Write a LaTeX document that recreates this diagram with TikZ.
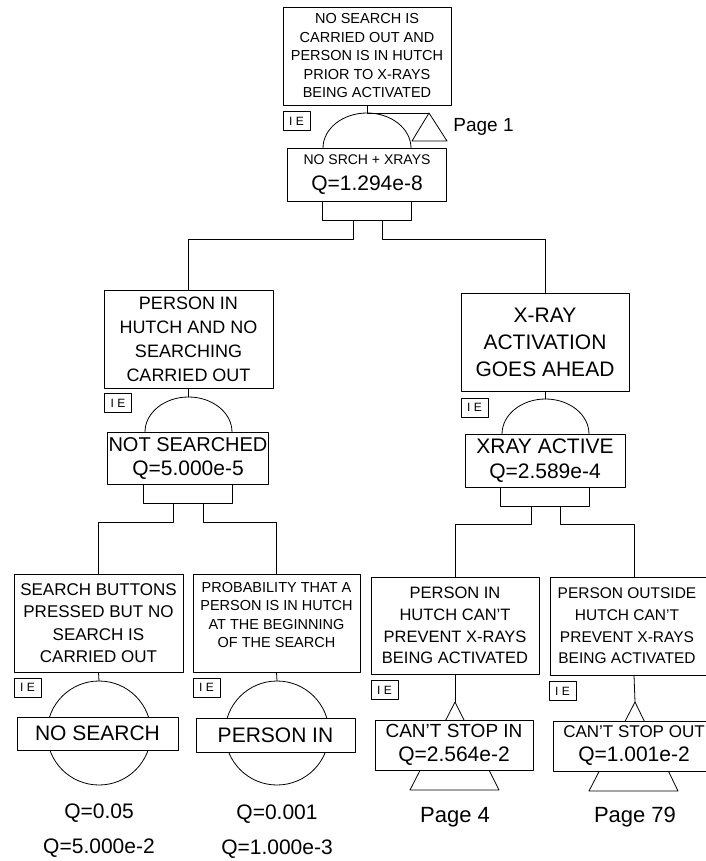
\documentclass[tikz,border=0pt]{standalone}
\usepackage{fontspec}
\setmainfont{Liberation Sans}
\newcommand{\fs}[2]{\fontsize{#1}{#2}\selectfont}

\begin{document}
\begin{tikzpicture}[x=1pt, y=-1pt, line cap=round, line join=round, line width=0.8pt,
  evbox/.style={draw, fill=white, align=center, inner sep=0pt},
  iebox/.style={draw, fill=white, inner sep=0pt, minimum width=27pt, minimum height=19pt, font=\fs{12}{12}},
  orbox/.style={draw, inner sep=0pt, minimum width=89pt, minimum height=19pt, anchor=north},
  lbl/.style={inner sep=0pt, font=\fs{21}{21}}]

\useasboundingbox (0,0) rectangle (705,861);

% Evento di vertice
\node[evbox, minimum width=168pt, minimum height=98pt, font=\fs{14.5}{18.5}] (top) at (367,56)
  {NO SEARCH IS\\CARRIED OUT AND\\PERSON IS IN HUTCH\\PRIOR TO X-RAYS\\BEING ACTIVATED};
\node[iebox] (ie0) at (296.5,121) {I E};
\coordinate (g0) at (367,113);
\coordinate (t0) at (429,113);
\draw (top.south) -- (g0) -- (t0);
\draw (323,148) arc[start angle=180, end angle=0, x radius=44pt, y radius=35pt];
\draw (t0) -- (412,141) -- (447,141) -- cycle;
\node[lbl, font=\fs{19}{19}, anchor=west] (p1) at (453,127) {Page 1};
\node[evbox, minimum width=159pt, minimum height=53pt, font=\fs{21}{26}] (n0) at (367,174.5)
  {{\fs{14}{26}NO SRCH + XRAYS}\\Q=1.294e-8};
\node[orbox] (b0) at (n0.south) {};

% Ramo sinistro
\node[evbox, minimum width=169pt, minimum height=98pt, font=\fs{18}{24}] (l1) at (188.5,339)
  {PERSON IN\\HUTCH AND NO\\SEARCHING\\CARRIED OUT};
\draw ([xshift=-14pt]b0.south) -- ++(0,18) -| (l1.north);
\node[iebox] (ie1) at (118,403) {I E};
\coordinate (g1) at (188.5,397);
\draw (l1.south) -- (g1);
\draw (145,432) arc[start angle=180, end angle=0, x radius=43.5pt, y radius=35pt];
\node[evbox, minimum width=161pt, minimum height=52pt, font=\fs{20}{24}] (n1) at (188,458)
  {NOT SEARCHED\\{\fs{21}{24}Q=5.000e-5}};
\node[orbox] (b1) at (n1.south) {};

% Ramo destro
\node[evbox, minimum width=168pt, minimum height=98pt, font=\fs{21}{27}] (r1) at (545,342)
  {X-RAY\\ACTIVATION\\GOES AHEAD};
\draw ([xshift=15pt]b0.south) -- ++(0,18) -| (r1.north);
\node[iebox] (ie2) at (474.5,407.5) {I E};
\coordinate (g2) at (545,399);
\draw (r1.south) -- (g2);
\draw (502,434) arc[start angle=180, end angle=0, x radius=43.5pt, y radius=35pt];
\node[evbox, minimum width=160pt, minimum height=53pt, font=\fs{21}{25}] (n2) at (545,460.5)
  {XRAY ACTIVE\\Q=2.589e-4};
\node[orbox] (b2) at (n2.south) {};

% Eventi base
\node[evbox, minimum width=169pt, minimum height=98pt, font=\fs{17}{22.5}] (e1) at (98.5,623)
  {SEARCH BUTTONS\\PRESSED BUT NO\\SEARCH IS\\CARRIED OUT};
\draw ([xshift=-15pt]b1.south) -- ++(0,18) -| (e1.north);
\node[iebox] (ie3) at (27.5,687.5) {I E};
\draw (99,733) circle (52pt);
\draw (e1.south) -- (99,681);
\node[evbox, minimum width=161pt, minimum height=33pt, font=\fs{21}{21}] (k1) at (97.5,733.5) {NO SEARCH};
\node[lbl] (q1a) at (99,813) {Q=0.05};
\node[lbl] (q1b) at (99,848) {Q=5.000e-2};

\node[evbox, minimum width=167pt, minimum height=98pt, font=\fs{14.5}{18.3}] (e2) at (276.5,623)
  {PROBABILITY THAT A\\PERSON IS IN HUTCH\\AT THE BEGINNING\\OF THE SEARCH\\[-2pt]\mbox{}};
\draw ([xshift=15pt]b1.south) -- ++(0,18) -| (e2.north);
\node[iebox] (ie4) at (206.5,687.5) {I E};
\draw (277,733) circle (52pt);
\draw (e2.south) -- (277,681);
\node[evbox, minimum width=159pt, minimum height=34pt, font=\fs{21}{21}] (k2) at (275.5,735) {PERSON IN};
\node[lbl] (q2a) at (277,814) {Q=0.001};
\node[lbl] (q2b) at (277,849) {Q=1.000e-3};

% Trasferimenti
\node[evbox, minimum width=168pt, minimum height=97pt, font=\fs{16.5}{21.7}] (e3) at (455,625.5)
  {PERSON IN\\HUTCH CAN'T\\PREVENT X-RAYS\\BEING ACTIVATED};
\draw ([xshift=-14pt]b2.south) -- ++(0,17) -| (e3.north);
\node[iebox] (ie5) at (384.5,690) {I E};
\coordinate (t1) at (455,702);
\draw (e3.south) -- (t1);
\draw (t1) -- (410,790) -- (499,790) -- cycle;
\node[evbox, minimum width=158pt, minimum height=50pt, font=\fs{21}{24}] (k3) at (454,745)
  {{\fs{19}{24}CAN'T STOP IN}\\Q=2.564e-2};
\node[lbl, font=\fs{22}{22}] (p4) at (455,817) {Page 4};

\node[evbox, minimum width=168pt, minimum height=98pt] (e4) at (634,626) {};
\node[align=center, inner sep=0pt, font=\fs{15.5}{21.7}] (e4t) at (627,626)
  {PERSON OUTSIDE\\HUTCH CAN'T\\PREVENT X-RAYS\\BEING ACTIVATED};
\draw ([xshift=15pt]b2.south) -- ++(0,17) -| (e4.north);
\node[iebox] (ie6) at (562.5,691) {I E};
\coordinate (t2) at (635,702);
\draw (e4.south) -- (t2);
\draw (t2) -- (589,791) -- (678,791) -- cycle;
\node[evbox, minimum width=162pt, minimum height=50pt, font=\fs{21}{24}] (k4) at (634,746)
  {{\fs{17}{24}CAN'T STOP OUT}\\Q=1.001e-2};
\node[lbl, font=\fs{22}{22}] (p79) at (635,817) {Page 79};

\end{tikzpicture}
\end{document}
